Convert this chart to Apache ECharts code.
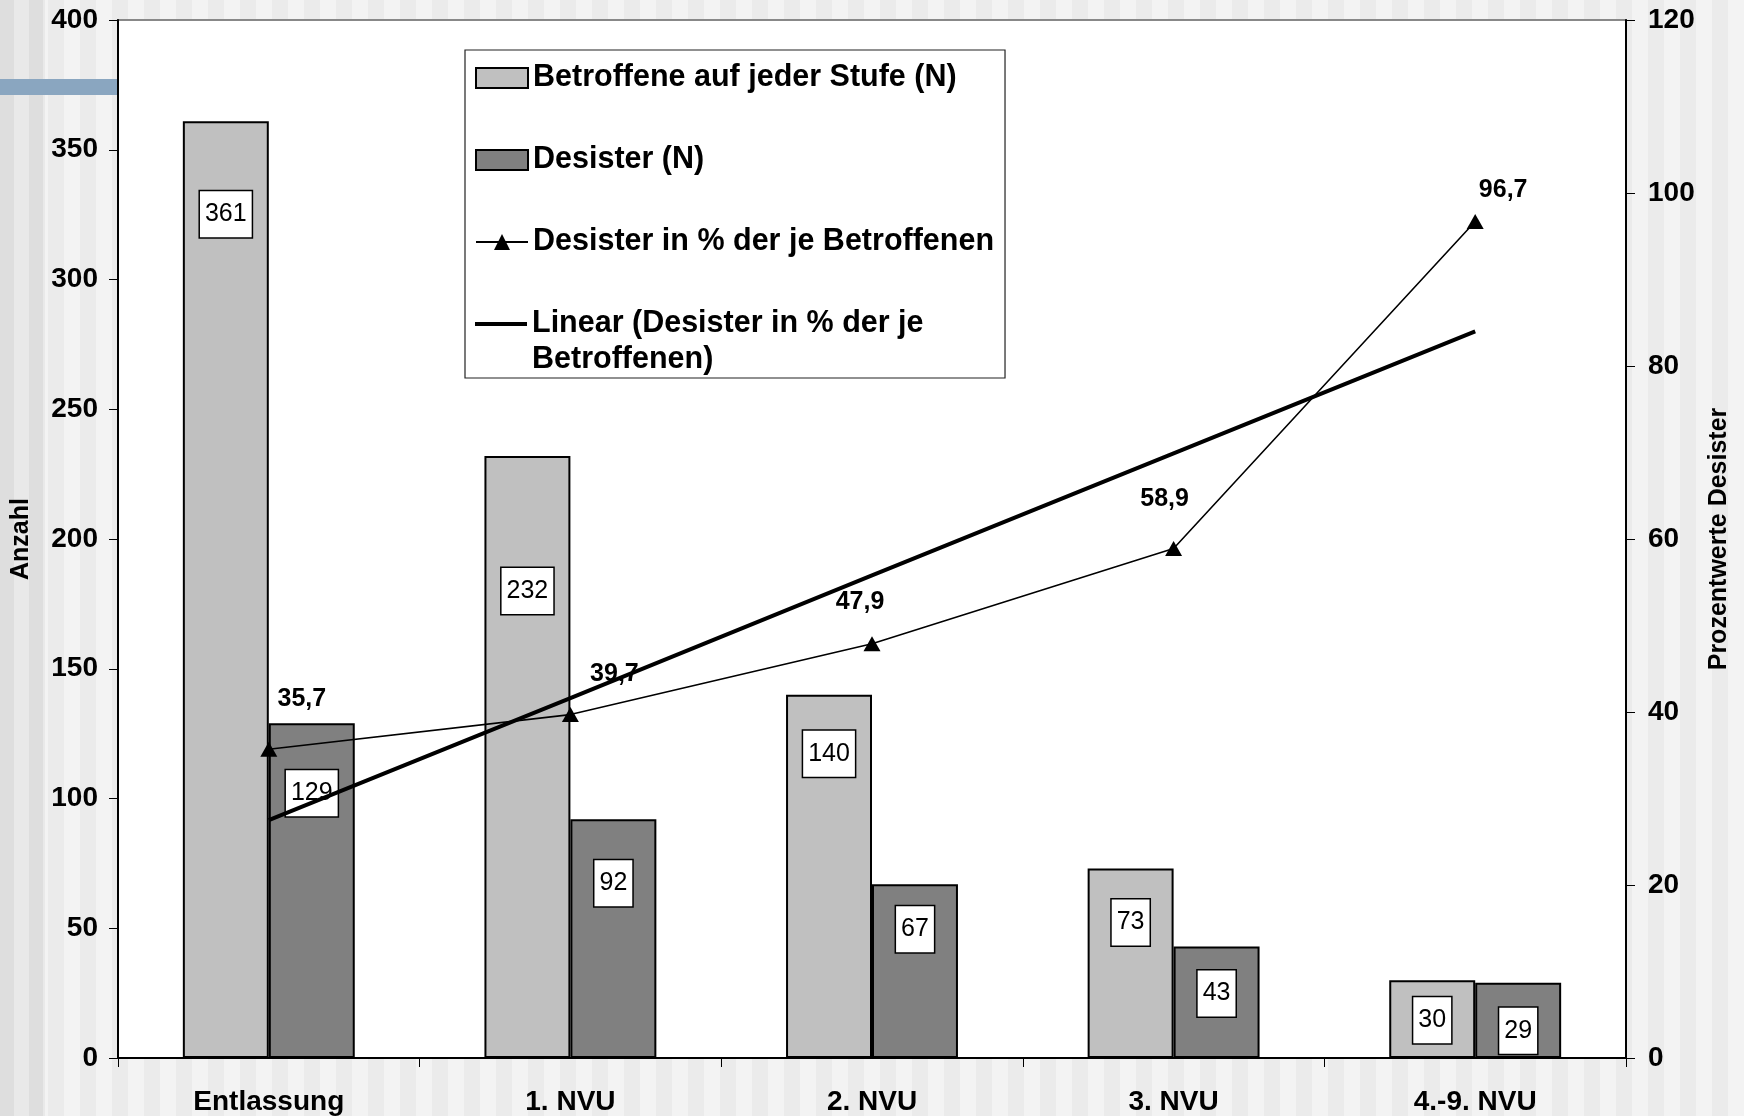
<!DOCTYPE html>
<html>
<head>
<meta charset="utf-8">
<script src="https://cdn.jsdelivr.net/npm/echarts@6/dist/echarts.min.js"></script>
<style>
  html, body { margin: 0; padding: 0; }
  body {
    width: 1744px; height: 1116px; overflow: hidden; position: relative;
    background: repeating-linear-gradient(90deg, #f3f3f3 0px, #f3f3f3 16px, #ebebeb 16px, #ebebeb 32px);
  }
  #leftband {
    position: absolute; left: 0; top: 0; width: 45px; height: 1116px;
    background: repeating-linear-gradient(90deg, #dedede 0px, #dedede 14px, #e9e9e9 14px, #e9e9e9 29px);
  }
  #bluebar { position: absolute; left: 0; top: 79px; width: 118px; height: 16px; background: #8aa6c0; }
  #chart { position: absolute; left: 0; top: 0; width: 1744px; height: 1116px; }
</style>
</head>
<body>
<div id="leftband"></div>
<div id="bluebar"></div>
<div id="chart"></div>
<script>
// ---- data ----
const categories = ['Entlassung', '1. NVU', '2. NVU', '3. NVU', '4.-9. NVU'];
const betroffene = [361, 232, 140, 73, 30];
const desister = [129, 92, 67, 43, 29];
const desisterPct = [35.7, 39.7, 47.9, 58.9, 96.7];
const trendPct = [27.5, 41.6, 55.8, 69.9, 84.0];
const leftTicks = { min: 0, max: 400, interval: 50 };
const rightTicks = { min: 0, max: 120, interval: 20 };
const seriesNames = ['Betroffene auf jeder Stufe (N)', 'Desister (N)', 'Desister in % der je Betroffenen', 'Linear (Desister in % der je Betroffenen)'];
const trendLegendText = 'Linear (Desister in % der je\nBetroffenen)';

// ---- label layout (positions only) ----
const lightLabelDist = [70, 112, 36, 31, 17];
const darkLabelDist = [47, 41, 22, 24, 25];
const pctLabelOffset = [[33, -50], [44, -40], [-12, -42], [-9, -49], [28, -31]];

const FONT = 'Liberation Sans, Arial, sans-serif';
const boxLabel = {
  show: true, position: 'insideTop', color: '#000', fontFamily: FONT, fontSize: 25,
  lineHeight: 26, backgroundColor: '#fff', borderColor: '#000', borderWidth: 1.5,
  padding: [10, 5, 10, 5]
};
const legendText = { fontFamily: FONT, fontSize: 30.5, fontWeight: 'bold', color: '#000', lineHeight: 36 };

function barData(vals, dists) {
  return vals.map((v, i) => ({ value: v, label: { distance: dists[i] } }));
}

const chart = echarts.init(document.getElementById('chart'), null, { renderer: 'canvas' });
chart.setOption({
  backgroundColor: 'transparent',
  animation: false,
  textStyle: { fontFamily: FONT },
  grid: { left: 118, right: 118, top: 20, bottom: 58, show: true, backgroundColor: '#fff', borderColor: '#888', borderWidth: 2 },
  legend: [
    {
      orient: 'vertical', left: 465, top: 50,
      padding: [10, 11, 118, 10], itemGap: 46, itemWidth: 52, itemHeight: 20,
      backgroundColor: '#fff', borderColor: '#222', borderWidth: 1.2,
      textStyle: legendText,
      data: [
        { name: seriesNames[0], icon: 'rect' },
        { name: seriesNames[1], icon: 'rect' },
        { name: seriesNames[2] }
      ]
    },
    {
      orient: 'vertical', left: 465, top: 270,
      padding: [0, 0, 0, 10], itemWidth: 52, itemHeight: 4,
      textStyle: legendText,
      formatter: () => '\n' + trendLegendText,
      data: [{ name: seriesNames[3], icon: 'rect' }]
    }
  ],
  xAxis: {
    type: 'category', data: categories,
    axisLine: { lineStyle: { color: '#000', width: 2 } },
    axisTick: { show: true, length: 9, lineStyle: { color: '#000', width: 1 } },
    axisLabel: { color: '#000', fontSize: 28, fontWeight: 'bold', fontFamily: FONT, margin: 30 }
  },
  yAxis: [
    {
      type: 'value', min: leftTicks.min, max: leftTicks.max, interval: leftTicks.interval,
      name: 'Anzahl', nameLocation: 'middle', nameGap: 84, nameRotate: 90,
      nameTextStyle: { color: '#000', fontSize: 25, fontWeight: 'bold', fontFamily: FONT },
      axisLine: { show: true, lineStyle: { color: '#000', width: 2 } },
      axisTick: { show: true, length: 9, lineStyle: { color: '#000', width: 1 } },
      axisLabel: { color: '#000', fontSize: 28, fontWeight: 'bold', fontFamily: FONT, margin: 20 },
      splitLine: { show: false }
    },
    {
      type: 'value', min: rightTicks.min, max: rightTicks.max, interval: rightTicks.interval, position: 'right',
      name: 'Prozentwerte Desister', nameLocation: 'middle', nameGap: 81, nameRotate: 90,
      nameTextStyle: { color: '#000', fontSize: 25, fontWeight: 'bold', fontFamily: FONT },
      axisLine: { show: true, lineStyle: { color: '#000', width: 2 } },
      axisTick: { show: true, length: 9, lineStyle: { color: '#000', width: 1 } },
      axisLabel: { color: '#000', fontSize: 28, fontWeight: 'bold', fontFamily: FONT, margin: 22 },
      splitLine: { show: false }
    }
  ],
  series: [
    {
      name: seriesNames[0], type: 'bar', yAxisIndex: 0,
      data: barData(betroffene, lightLabelDist),
      barGap: '0%', barCategoryGap: '43%',
      itemStyle: { color: '#c0c0c0', borderColor: '#000', borderWidth: 2 },
      label: boxLabel, z: 2
    },
    {
      name: seriesNames[1], type: 'bar', yAxisIndex: 0,
      data: barData(desister, darkLabelDist),
      barGap: '0%', barCategoryGap: '43%',
      itemStyle: { color: '#808080', borderColor: '#000', borderWidth: 2 },
      label: boxLabel, z: 2
    },
    {
      name: seriesNames[2], type: 'line', yAxisIndex: 1,
      data: desisterPct.map((v, i) => ({ value: v, label: { offset: pctLabelOffset[i] } })),
      symbol: 'triangle', symbolSize: [17, 15],
      lineStyle: { color: '#000', width: 1.6 },
      itemStyle: { color: '#000' },
      label: {
        show: true, position: 'inside', color: '#000', fontSize: 25, fontWeight: 'bold', fontFamily: FONT,
        formatter: p => p.value.toFixed(1).replace('.', ',')
      },
      z: 4
    },
    {
      name: seriesNames[3], type: 'line', yAxisIndex: 1,
      data: trendPct, symbol: 'none', showSymbol: false,
      lineStyle: { color: '#000', width: 4 },
      itemStyle: { color: '#000' },
      z: 3
    }
  ]
});
</script>
</body>
</html>
